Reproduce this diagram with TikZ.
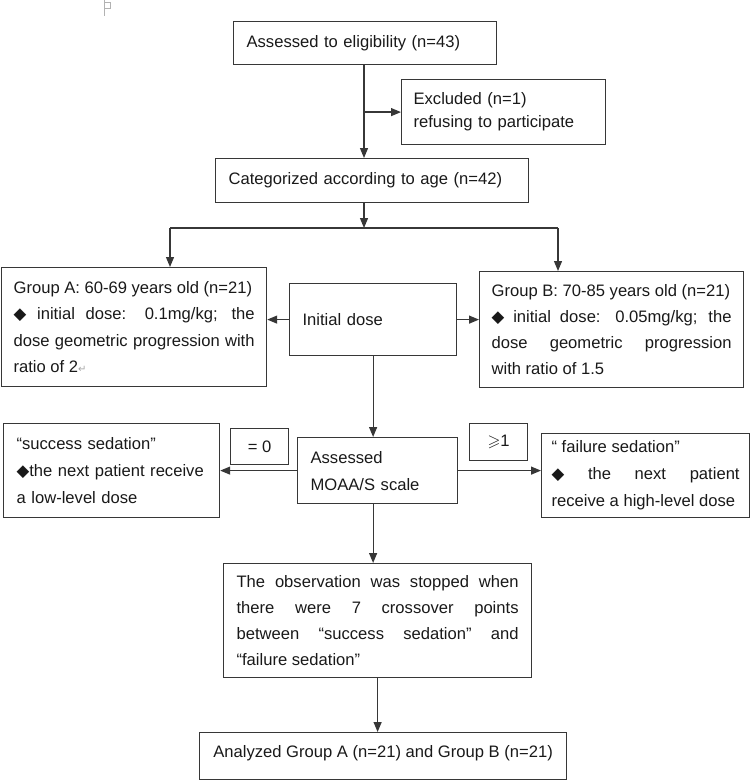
\documentclass[tikz,border=0pt]{standalone}
\usepackage{amssymb}
\usepackage{fontspec}
\setmainfont{Liberation Sans}
\newfontfamily\symfont{DejaVu Sans}
\usepackage{tikz}
\usetikzlibrary{arrows.meta}
\usetikzlibrary{positioning,calc}
\definecolor{linegray}{RGB}{55,55,55}
\definecolor{textgray}{RGB}{25,25,25}
\tikzset{
    flow box/.style={
        draw=linegray,
        line width=1.2pt,
        anchor=north west,
        align=left,
        inner xsep=13pt,
        inner ysep=0pt,
        text=textgray,
        font=\fontsize{16.6}{26.6}\selectfont
    },
    just box/.style={
        flow box,
        align=justify
    },
    tag box/.style={
        flow box,
        align=center,
        inner xsep=0pt
    },
    flow/.style={
        draw=linegray,
        line width=1.2pt,
        -{Triangle[length=10pt,width=8pt]}
    }
}
\newcommand{\dia}{{\symfont ◆}}
\newcommand{\retmark}{{\color{gray!70}\symfont\fontsize{10}{10}\selectfont ↵}}

\begin{document}
\begin{tikzpicture}[x=1pt,y=-1pt]
            \useasboundingbox (0,0) rectangle (750,781);
            \draw[gray!60, line width=0.8pt] (104,0) -- (104,16) (104,2) -- (110,2) -- (110,8) -- (104,8);

            \node[flow box, text width=237pt, minimum height=43pt] (elig) at (233,21)
              {Assessed to eligibility (n=43)};
            \node[flow box, text width=180pt, inner xsep=12pt, minimum height=65pt,
                  font=\fontsize{16.6}{23}\selectfont] (excl) at (401,79)
              {Excluded (n=1)\\refusing to participate};
            \node[flow box, text width=287pt, minimum height=44pt] (categ) at (215,158)
              {Categorized according to age (n=42)};
            \node[just box, text width=241pt, inner xsep=12pt, minimum height=119pt] (grpA) at (1,267)
              {Group A: 60-69 years old (n=21)\\\dia\ initial dose: 0.1mg/kg; the\linebreak
               dose geometric progression with\linebreak ratio of 2\retmark};
            \node[flow box, text width=141pt, minimum height=72pt] (init) at (289,283)
              {Initial dose};
            \node[just box, text width=240pt, inner xsep=12pt, minimum height=116pt,
                  font=\fontsize{16.6}{25.7}\selectfont] (grpB) at (479,271)
              {Group B: 70-85 years old (n=21)\\\dia\ initial dose: 0.05mg/kg; the\linebreak
               dose geometric progression\linebreak with ratio of 1.5};

            \node[flow box, text width=190pt, minimum height=94pt, font=\fontsize{16.6}{27}\selectfont] (succ) at (3,423)
              {“success sedation”\\\dia the next patient receive\\a low-level dose};
            \node[tag box, minimum width=58pt, minimum height=36pt] (eqzero) at (230,428) {= 0};
            \node[flow box, text width=134pt, minimum height=66pt, font=\fontsize{16.6}{27}\selectfont] (assess) at (297,437)
              {Assessed\\MOAA/S scale};
            \node[tag box, minimum width=58pt, minimum height=37pt] (geone) at (469,423) {$\geqslant$1};
            \node[just box, text width=188pt, inner xsep=10pt, minimum height=84pt,
                  font=\fontsize{16.6}{27}\selectfont] (fail) at (541,433)
              {“ failure sedation”\\\dia\ the next patient\linebreak receive a high-level dose};

            \node[just box, text width=282pt, minimum height=114pt, font=\fontsize{16.6}{26.3}\selectfont] (obs) at (223,563)
              {The observation was stopped when\linebreak there were 7 crossover points\linebreak
               between “success sedation” and\linebreak “failure sedation”};
            \node[tag box, minimum width=367pt, minimum height=47pt, text depth=9pt] (anal) at (199,732)
              {Analyzed Group A (n=21) and Group B (n=21)};

            % split points of the vertical trunk
            \coordinate (split) at (364,228);
            \coordinate (splitA) at (170,228);
            \coordinate (splitB) at (558,228);

            \draw[flow] (split |- elig.south) -- (split |- categ.north);
            \draw[flow] (split |- excl.west) -- (excl.west);
            \draw[flow] (split |- categ.south) -- (split);
            \draw[draw=linegray, line width=1.2pt] (splitA) -- (splitB);
            \foreach \s/\t in {splitA/grpA.north, splitB/grpB.north, init.south/assess.north, obs.south/anal.north}
              \draw[flow] (\s) -- (\s |- \t);
            \foreach \s/\t in {init.west/grpA.east, init.east/grpB.west, assess.west/succ.east, assess.east/fail.west}
              \draw[flow] (\s) -- (\s -| \t);
            \draw[flow] (init.south |- assess.south) -- (init.south |- obs.north);
\end{tikzpicture}
\end{document}
